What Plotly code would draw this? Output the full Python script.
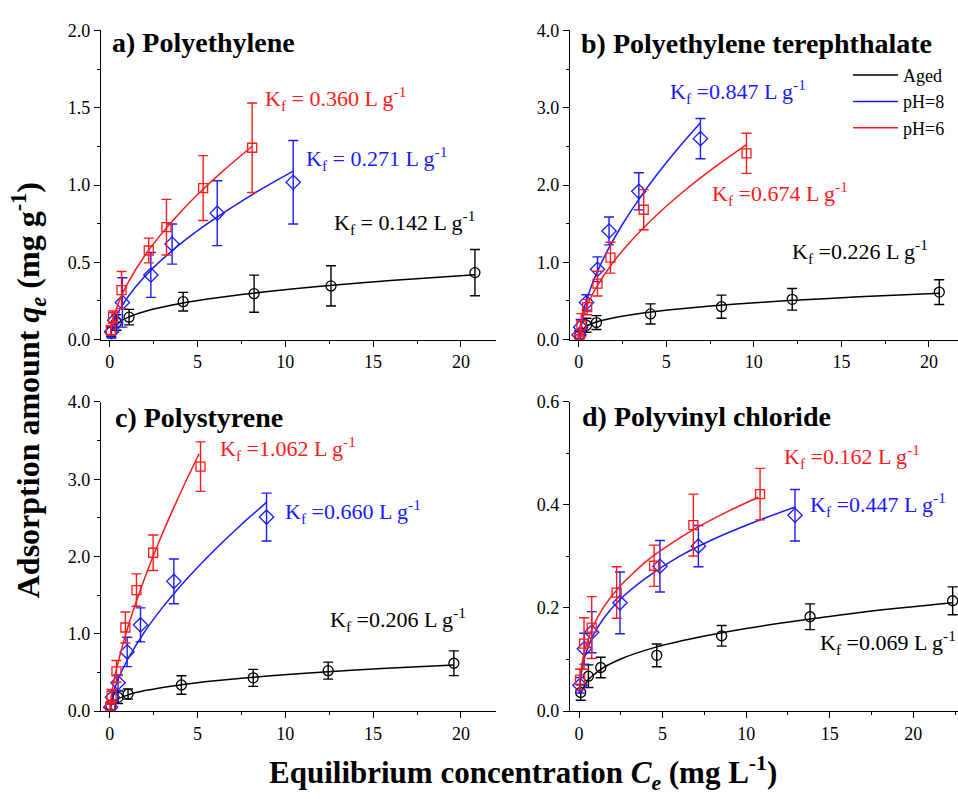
import plotly.graph_objects as go

W, H = 958, 799

# ---------------- data ----------------
# Panel a) Polyethylene
a_aged_x = [0.08, 0.38, 1.1, 4.18, 8.22, 12.6, 20.8]
a_aged_y = [0.05, 0.11, 0.145, 0.245, 0.297, 0.347, 0.433]
a_aged_e = [0.03, 0.05, 0.05, 0.06, 0.12, 0.13, 0.15]
a_ph8_x = [0.1, 0.28, 0.72, 2.34, 3.55, 6.12, 10.45]
a_ph8_y = [0.05, 0.124, 0.24, 0.418, 0.618, 0.818, 1.018]
a_ph8_e = [0.04, 0.05, 0.16, 0.145, 0.13, 0.21, 0.27]
a_ph6_x = [0.06, 0.19, 0.67, 2.22, 3.23, 5.32, 8.11]
a_ph6_y = [0.06, 0.145, 0.32, 0.576, 0.727, 0.98, 1.241]
a_ph6_e = [0.03, 0.04, 0.12, 0.08, 0.18, 0.21, 0.29]
# fitted curves
a_aged_fx = [0.08, 0.4, 1, 2, 4, 6, 9, 12, 16, 20.8]
a_aged_fy = [0.058, 0.102, 0.142, 0.182, 0.233, 0.269, 0.311, 0.345, 0.382, 0.42]
a_ph8_fx = [0.1, 0.3, 0.7, 1.5, 2.5, 4, 5.5, 7, 8.7, 10.45]
a_ph8_fy = [0.069, 0.133, 0.219, 0.345, 0.467, 0.617, 0.745, 0.859, 0.978, 1.09]
a_ph6_fx = [0.06, 0.2, 0.5, 1, 2, 3, 4, 5, 6.5, 8.11]
a_ph6_fy = [0.068, 0.138, 0.238, 0.36, 0.544, 0.692, 0.821, 0.938, 1.096, 1.251]

# Panel b) Polyethylene terephthalate
b_aged_x = [0.06, 0.44, 1.01, 4.1, 8.15, 12.19, 20.59]
b_aged_y = [0.06, 0.185, 0.22, 0.332, 0.425, 0.52, 0.614]
b_aged_e = [0.05, 0.09, 0.09, 0.13, 0.15, 0.14, 0.16]
b_ph8_x = [0.02, 0.11, 0.44, 1.07, 1.73, 3.43, 6.95]
b_ph8_y = [0.06, 0.16, 0.48, 0.91, 1.405, 1.918, 2.60]
b_ph8_e = [0.05, 0.1, 0.1, 0.16, 0.18, 0.24, 0.26]
b_ph6_x = [0.03, 0.15, 0.48, 1.07, 1.81, 3.71, 9.58]
b_ph6_y = [0.03, 0.185, 0.42, 0.723, 1.06, 1.68, 2.41]
b_ph6_e = [0.03, 0.15, 0.1, 0.16, 0.2, 0.26, 0.26]
b_aged_fx = [0.06, 0.4, 1, 2, 4, 6, 9, 12, 16, 20.6]
b_aged_fy = [0.091, 0.168, 0.226, 0.283, 0.354, 0.403, 0.46, 0.504, 0.553, 0.6]
b_ph8_fx = [0.02, 0.2, 0.5, 1, 1.7, 2.5, 3.5, 4.5, 5.7, 6.95]
b_ph8_fy = [0.076, 0.313, 0.552, 0.847, 1.176, 1.492, 1.837, 2.146, 2.483, 2.807]
b_ph6_fx = [0.03, 0.2, 0.5, 1, 2, 3, 4.5, 6, 7.8, 9.58]
b_ph6_fy = [0.087, 0.263, 0.45, 0.674, 1.01, 1.28, 1.622, 1.919, 2.237, 2.522]

# Panel c) Polystyrene
c_aged_x = [0.06, 0.47, 1.04, 4.08, 8.17, 12.44, 19.6]
c_aged_y = [0.07, 0.177, 0.219, 0.337, 0.429, 0.522, 0.618]
c_aged_e = [0.05, 0.08, 0.065, 0.12, 0.11, 0.11, 0.16]
c_ph8_x = [0.05, 0.15, 0.47, 0.99, 1.75, 3.65, 8.93]
c_ph8_y = [0.05, 0.177, 0.366, 0.765, 1.115, 1.678, 2.51]
c_ph8_e = [0.04, 0.08, 0.1, 0.19, 0.22, 0.29, 0.31]
c_ph6_x = [0.02, 0.1, 0.38, 0.89, 1.52, 2.47, 5.17]
c_ph6_y = [0.05, 0.2, 0.513, 1.081, 1.565, 2.048, 3.163]
c_ph6_e = [0.04, 0.08, 0.14, 0.2, 0.21, 0.23, 0.32]
c_aged_fx = [0.06, 0.4, 1, 2, 4, 6, 9, 12, 15.5, 19.6]
c_aged_fy = [0.075, 0.148, 0.206, 0.264, 0.338, 0.391, 0.452, 0.501, 0.549, 0.597]
c_ph8_fx = [0.03, 0.2, 0.5, 1, 2, 3, 4.5, 6, 7.5, 8.93]
c_ph8_fy = [0.069, 0.234, 0.423, 0.66, 1.031, 1.338, 1.737, 2.091, 2.414, 2.7]
c_ph6_fx = [0.02, 0.15, 0.4, 0.8, 1.3, 2, 2.8, 3.6, 4.3, 5.09]
c_ph6_fy = [0.068, 0.28, 0.558, 0.908, 1.277, 1.728, 2.188, 2.61, 2.957, 3.329]

# Panel d) Polyvinyl chloride
d_aged_x = [0.1, 0.56, 1.3, 4.65, 8.53, 13.82, 22.35]
d_aged_y = [0.036, 0.0675, 0.0845, 0.108, 0.146, 0.183, 0.214]
d_aged_e = [0.015, 0.022, 0.02, 0.022, 0.02, 0.025, 0.027]
d_ph8_x = [0.06, 0.32, 0.76, 2.45, 4.84, 7.14, 12.92]
d_ph8_y = [0.05, 0.121, 0.153, 0.21, 0.281, 0.32, 0.38]
d_ph8_e = [0.015, 0.03, 0.04, 0.06, 0.05, 0.04, 0.05]
d_ph6_x = [0.06, 0.3, 0.76, 2.25, 4.49, 6.84, 10.83]
d_ph6_y = [0.061, 0.131, 0.162, 0.23, 0.282, 0.361, 0.421]
d_ph6_e = [0.02, 0.05, 0.06, 0.05, 0.04, 0.06, 0.05]
d_aged_fx = [0.1, 0.5, 1.3, 2.5, 4.5, 7, 10, 13.5, 17.5, 22.35]
d_aged_fy = [0.034, 0.059, 0.081, 0.101, 0.123, 0.142, 0.16, 0.177, 0.194, 0.21]
d_ph8_fx = [0.06, 0.3, 0.8, 1.5, 2.5, 4, 6, 8, 10.5, 12.92]
d_ph8_fy = [0.056, 0.101, 0.144, 0.181, 0.218, 0.258, 0.30, 0.333, 0.367, 0.396]
d_ph6_fx = [0.06, 0.3, 0.8, 1.5, 2.5, 4, 5.5, 7, 9, 10.72]
d_ph6_fy = [0.063, 0.113, 0.161, 0.203, 0.244, 0.29, 0.325, 0.355, 0.389, 0.415]

panel_titles = ["a) Polyethylene", "b) Polyethylene terephthalate",
                "c) Polystyrene", "d) Polyvinyl chloride"]
series_names = ["Aged", "pH=8", "pH=6"]

# Kf labels: (text, series index, x, y) per panel
kf_labels = [
    [("K<sub>f</sub> = 0.360 L g<sup>-1</sup>", 2, 8.72, 1.53),
     ("K<sub>f</sub> = 0.271 L g<sup>-1</sup>", 1, 11.05, 1.14),
     ("K<sub>f</sub> = 0.142 L g<sup>-1</sup>", 0, 12.63, 0.725)],
    [("K<sub>f</sub> =0.847 L g<sup>-1</sup>", 1, 5.1, 3.14),
     ("K<sub>f</sub> =0.674 L g<sup>-1</sup>", 2, 7.52, 1.83),
     ("K<sub>f</sub> =0.226 L g<sup>-1</sup>", 0, 12.06, 1.07)],
    [("K<sub>f</sub> =1.062 L g<sup>-1</sup>", 2, 6.17, 3.33),
     ("K<sub>f</sub> =0.660 L g<sup>-1</sup>", 1, 9.87, 2.52),
     ("K<sub>f</sub> =0.206 L g<sup>-1</sup>", 0, 12.44, 1.12)],
    [("K<sub>f</sub> =0.162 L g<sup>-1</sup>", 2, 12.12, 0.484),
     ("K<sub>f</sub> =0.447 L g<sup>-1</sup>", 1, 13.68, 0.392),
     ("K<sub>f</sub> =0.069 L g<sup>-1</sup>", 0, 14.31, 0.124)],
]

panels = [
    [(a_aged_x, a_aged_y, a_aged_e, a_aged_fx, a_aged_fy),
     (a_ph8_x, a_ph8_y, a_ph8_e, a_ph8_fx, a_ph8_fy),
     (a_ph6_x, a_ph6_y, a_ph6_e, a_ph6_fx, a_ph6_fy)],
    [(b_aged_x, b_aged_y, b_aged_e, b_aged_fx, b_aged_fy),
     (b_ph8_x, b_ph8_y, b_ph8_e, b_ph8_fx, b_ph8_fy),
     (b_ph6_x, b_ph6_y, b_ph6_e, b_ph6_fx, b_ph6_fy)],
    [(c_aged_x, c_aged_y, c_aged_e, c_aged_fx, c_aged_fy),
     (c_ph8_x, c_ph8_y, c_ph8_e, c_ph8_fx, c_ph8_fy),
     (c_ph6_x, c_ph6_y, c_ph6_e, c_ph6_fx, c_ph6_fy)],
    [(d_aged_x, d_aged_y, d_aged_e, d_aged_fx, d_aged_fy),
     (d_ph8_x, d_ph8_y, d_ph8_e, d_ph8_fx, d_ph8_fy),
     (d_ph6_x, d_ph6_y, d_ph6_e, d_ph6_fx, d_ph6_fy)],
]

# ---------------- styles ----------------
FONT = "Liberation Serif"
colors = ["#000000", "#1a1aff", "#ff1a1a"]
symbols = ["circle-open", "diamond-open", "square-open"]
msizes = [10, 11, 9]

# axes boxes in pixels: (left, right, top, bottom)
boxes = [(101, 496, 21, 338), (570, 958, 21, 338),
         (101, 496, 402, 719), (570, 958, 402, 719)]
xranges = [[-0.5, 22.0], [-0.5, 21.66], [-0.5, 22.0], [-0.54, 22.67]]
yranges = [[0, 2.0], [0, 4.0], [0, 4.0], [0, 0.6]]
ydticks = [0.5, 1.0, 1.0, 0.2]

fig = go.Figure()

for p in range(4):
    xa = "x" if p == 0 else f"x{p+1}"
    ya = "y" if p == 0 else f"y{p+1}"
    for s in range(3):
        x, y, e, fx, fy = panels[p][s]
        fig.add_trace(go.Scatter(
            x=fx, y=fy, mode="lines",
            line=dict(color=colors[s], width=1.5, shape="spline", smoothing=0.6),
            name=series_names[s], showlegend=(p == 1), legendrank=s + 1,
            xaxis=xa, yaxis=ya, hoverinfo="skip"))
        fig.add_trace(go.Scatter(
            x=x, y=y, mode="markers",
            marker=dict(symbol=symbols[s], size=msizes[s], color=colors[s],
                        line=dict(width=1.3, color=colors[s])),
            error_y=dict(type="data", array=e, visible=True, color=colors[s],
                         thickness=1.4, width=5),
            showlegend=False, xaxis=xa, yaxis=ya))

layout = dict(width=W, height=H, autosize=False,
              margin=dict(l=0, r=0, t=0, b=0),
              paper_bgcolor="white", plot_bgcolor="white",
              font=dict(family=FONT, color="black", size=17),
              showlegend=True,
              legend=dict(x=848 / W, y=1 - 48 / H, xanchor="left", yanchor="top",
                          font=dict(family=FONT, size=18, color="black"),
                          bgcolor="rgba(0,0,0,0)", tracegroupgap=0, itemwidth=45))

for p in range(4):
    l, r, t, b = boxes[p]
    xk = "xaxis" if p == 0 else f"xaxis{p+1}"
    yk = "yaxis" if p == 0 else f"yaxis{p+1}"
    ya = "y" if p == 0 else f"y{p+1}"
    xa = "x" if p == 0 else f"x{p+1}"
    layout[xk] = dict(domain=[l / W, r / W], anchor=ya, range=xranges[p],
                      showline=True, linecolor="black", linewidth=1.4,
                      ticks="outside", ticklen=6, tickwidth=1.3, tickcolor="black",
                      tick0=0, dtick=5, showgrid=False, zeroline=False,
                      tickfont=dict(family=FONT, size=18, color="black"),
                      minor=dict(ticks="outside", ticklen=3, tickwidth=1.2, tickcolor="black",
                                 dtick=2.5, tick0=0, showgrid=False))
    layout[yk] = dict(domain=[1 - b / H, 1 - t / H], anchor=xa, range=yranges[p],
                      showline=True, linecolor="black", linewidth=1.4,
                      ticks="outside", ticklen=6, tickwidth=1.3, tickcolor="black",
                      tick0=0, dtick=ydticks[p], tickformat=".1f",
                      showgrid=False, zeroline=False,
                      tickfont=dict(family=FONT, size=18, color="black"),
                      minor=dict(ticks="outside", ticklen=3, tickwidth=1.2, tickcolor="black",
                                 dtick=ydticks[p] / 2, tick0=0, showgrid=False))

fig.update_layout(**layout)

annotations = []
title_pos = [(110, 33), (579, 34), (113, 418), (580, 417)]
for p in range(4):
    xa = "x" if p == 0 else f"x{p+1}"
    ya = "y" if p == 0 else f"y{p+1}"
    tx, ty = title_pos[p]
    annotations.append(dict(text="<b>" + panel_titles[p] + "</b>", xref="paper", yref="paper",
                            x=tx / W, y=1 - ty / H, xanchor="left", yanchor="middle",
                            showarrow=False, font=dict(family=FONT, size=28, color="black")))
    for txt, s, kx, ky in kf_labels[p]:
        annotations.append(dict(text=txt, xref=xa, yref=ya, x=kx, y=ky, yshift=5,
                                xanchor="left", yanchor="middle", showarrow=False,
                                font=dict(family=FONT, size=22, color=colors[s])))

annotations.append(dict(text="<b>Adsorption amount <i>q<sub>e</sub></i> (mg g<sup>-1</sup>)</b>",
                        xref="paper", yref="paper", x=28 / W, y=1 - 390 / H,
                        xanchor="center", yanchor="middle", textangle=-90, showarrow=False,
                        font=dict(family=FONT, size=32, color="black")))
annotations.append(dict(text="<b>Equilibrium concentration <i>C<sub>e</sub></i> (mg L<sup>-1</sup>)</b>",
                        xref="paper", yref="paper", x=523 / W, y=1 - 783 / H,
                        xanchor="center", yanchor="middle", showarrow=False,
                        font=dict(family=FONT, size=31, color="black")))
fig.update_layout(annotations=annotations)

fig.write_html("out.html")
